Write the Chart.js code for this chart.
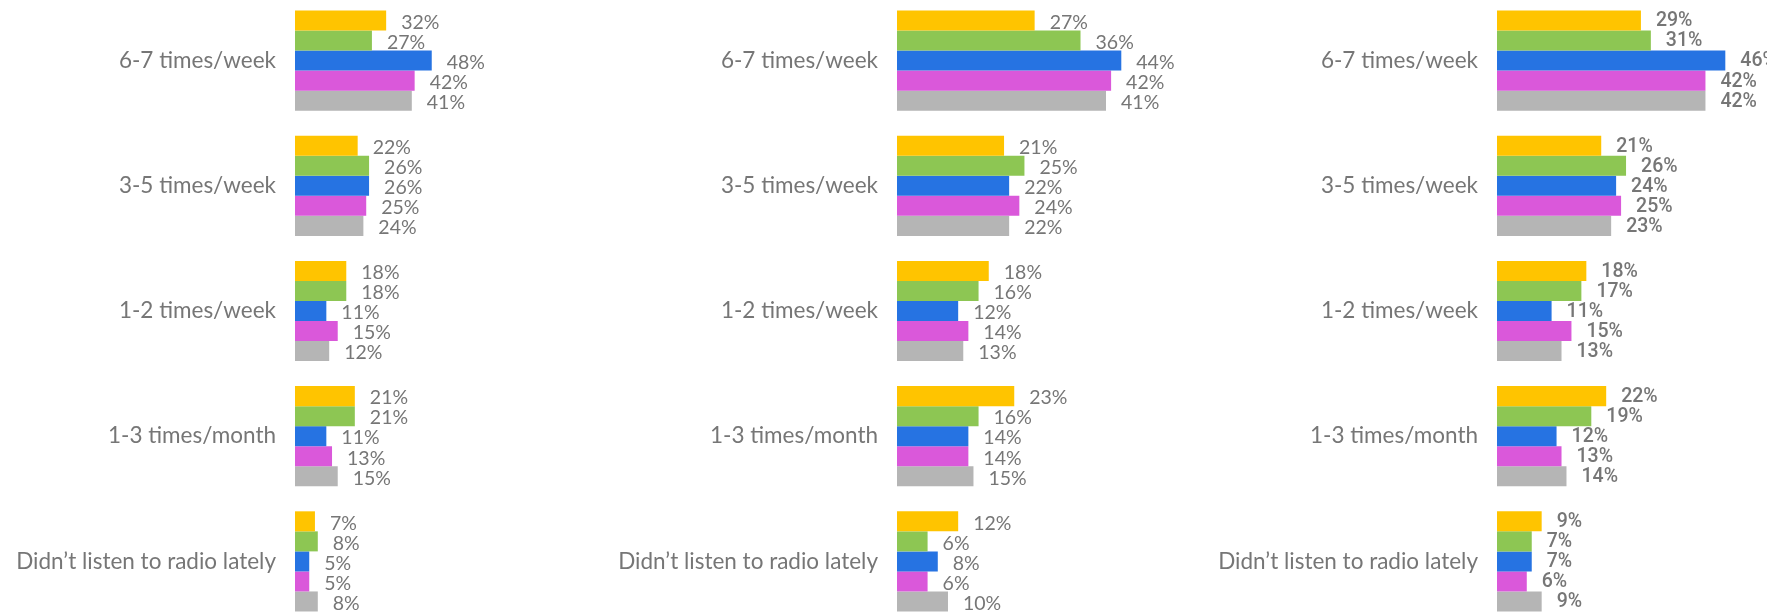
<!DOCTYPE html>
<html>
<head>
<meta charset="utf-8">
<script src="https://cdn.jsdelivr.net/npm/chart.js@4"></script>
<style>
  html, body { margin: 0; padding: 0; background: #fff; overflow: hidden; }
  body { width: 1767px; height: 615px; position: relative; }
  .panel { position: absolute; top: -2px; height: 626px; }
</style>
</head>
<body>
<div class="panel" id="p1" style="left:0;width:540px"><canvas id="chart1"></canvas></div>
<div class="panel" id="p2" style="left:540px;width:670px"><canvas id="chart2"></canvas></div>
<div class="panel" id="p3" style="left:1210px;width:557px"><canvas id="chart3"></canvas></div>
<script>
// Categories (same for all three panels)
const categories = ['6-7 times/week', '3-5 times/week', '1-2 times/week', '1-3 times/month', 'Didn\u2019t listen to radio lately'];

// Left panel, five series (yellow, green, blue, magenta, grey)
const leftS1 = [32, 22, 18, 21, 7];
const leftS2 = [27, 26, 18, 21, 8];
const leftS3 = [48, 26, 11, 11, 5];
const leftS4 = [42, 25, 15, 13, 5];
const leftS5 = [41, 24, 12, 15, 8];

// Middle panel
const midS1 = [27, 21, 18, 23, 12];
const midS2 = [36, 25, 16, 16, 6];
const midS3 = [44, 22, 12, 14, 8];
const midS4 = [42, 24, 14, 14, 6];
const midS5 = [41, 22, 13, 15, 10];

// Right panel
const rightS1 = [29, 21, 18, 22, 9];
const rightS2 = [31, 26, 17, 19, 7];
const rightS3 = [46, 24, 11, 12, 7];
const rightS4 = [42, 25, 15, 13, 6];
const rightS5 = [42, 23, 13, 14, 9];

const colors = ['#FFC400', '#8DC653', '#2673E2', '#DA58DA', '#B5B5B5'];
const textGrey = '#767676';

// draws "nn%" just after the end of every bar
const valueLabels = {
    id: 'valueLabels',
    afterDatasetsDraw(chart, args, opts) {
        const ctx = chart.ctx;
        ctx.save();
        ctx.font = opts.font;
        ctx.fillStyle = opts.color;
        ctx.textAlign = 'left';
        ctx.textBaseline = 'middle';
        chart.data.datasets.forEach((ds, i) => {
            chart.getDatasetMeta(i).data.forEach((bar, j) => {
                ctx.fillText(ds.data[j] + '%', bar.x + 15, bar.y + opts.dy);
            });
        });
        ctx.restore();
    }
};

function makeChart(id, series, axisWidth, xMax, labelFont, labelDy) {
    const ctx = document.getElementById(id).getContext('2d');
    return new Chart(ctx, {
        type: 'bar',
        data: {
            labels: categories,
            datasets: series.map((s, i) => ({
                data: s,
                backgroundColor: colors[i],
                borderWidth: 0,
                barPercentage: 1.0,
                categoryPercentage: 0.8
            }))
        },
        options: {
            indexAxis: 'y',
            responsive: true,
            maintainAspectRatio: false,
            animation: false,
            layout: { padding: 0 },
            plugins: {
                legend: { display: false },
                tooltip: { enabled: false },
                valueLabels: { font: labelFont, color: textGrey, dy: labelDy }
            },
            scales: {
                x: { display: false, min: 0, max: xMax },
                y: {
                    afterFit: function (scale) {
                        scale.width = axisWidth;
                        // no extra room above/below the bars
                        scale.paddingTop = 0;
                        scale.paddingBottom = 0;
                    },
                    grid: { display: false, drawTicks: false },
                    border: { display: false },
                    ticks: {
                        color: textGrey,
                        padding: 19,
                        font: { family: 'Lato', size: 22.5 }
                    }
                }
            }
        },
        plugins: [valueLabels]
    });
}

makeChart('chart1', [leftS1, leftS2, leftS3, leftS4, leftS5], 295, 86, '19.5px Lato', 2);
makeChart('chart2', [midS1, midS2, midS3, midS4, midS5], 357, 61.4, '19.5px Lato', 2);
makeChart('chart3', [rightS1, rightS2, rightS3, rightS4, rightS5], 287, 54.4, '500 19.5px Roboto', 1);
</script>
</body>
</html>
